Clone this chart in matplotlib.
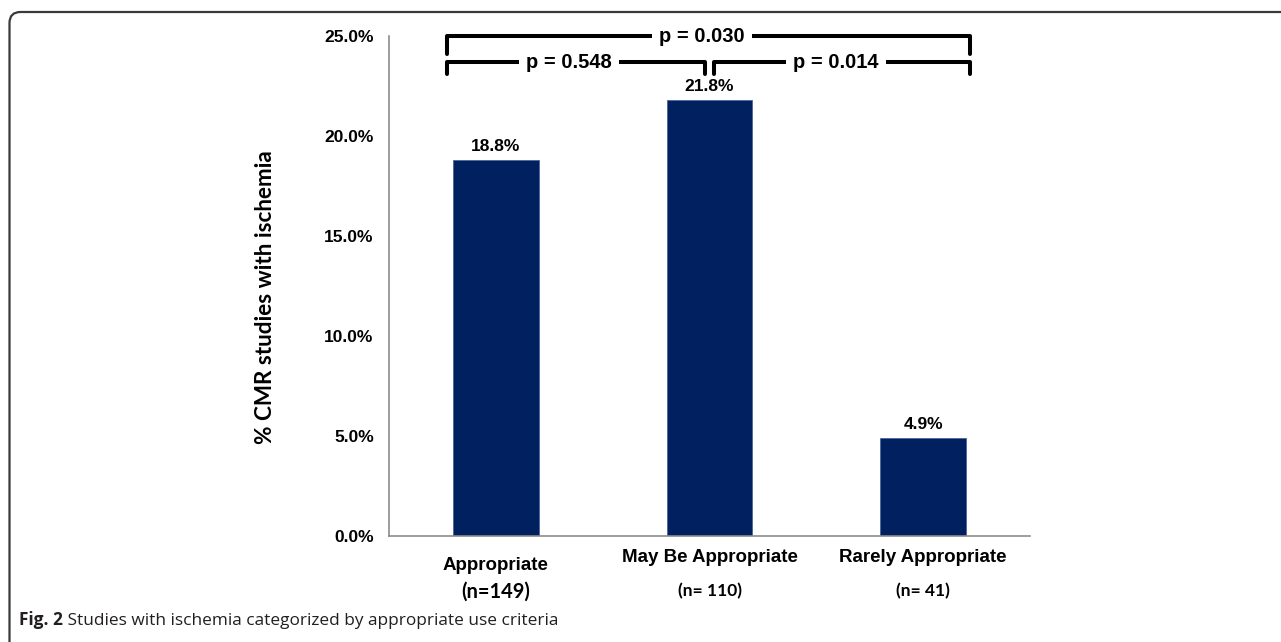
import matplotlib
matplotlib.use("Agg")
import matplotlib.pyplot as plt
from matplotlib.patches import FancyBboxPatch
import numpy as np

# ---- data ----
categories = ["Appropriate", "May Be Appropriate", "Rarely Appropriate"]
sample_sizes = ["(n=149)", "(n= 110)", "(n= 41)"]
pct_ischemia = [18.8, 21.8, 4.9]
y_ticks = [0, 5, 10, 15, 20, 25]
# pairwise comparisons: (left bar, right bar, label, bracket level)
comparisons = [
    (0, 2, "p = 0.030", 25.0),
    (0, 1, "p = 0.548", 23.7),
    (1, 2, "p = 0.014", 23.7),
]

BAR_COLOR = "#002060"
AXIS_COLOR = "#8c8c8c"
ARIAL = ["Liberation Sans", "DejaVu Sans"]
CALIBRI = ["Lato", "DejaVu Sans"]
CAPTION = ["Open Sans", "DejaVu Sans"]

W, H, DPI = 1281, 642, 100
fig = plt.figure(figsize=(W / DPI, H / DPI), dpi=DPI)
fig.patch.set_facecolor("white")

# outer rounded frame (open to the right and bottom)
frame = FancyBboxPatch((0.095, -1.0), 14.0, 6.30 + 1.0,
                       boxstyle="round,pad=0,rounding_size=0.11",
                       transform=fig.dpi_scale_trans, fill=False,
                       edgecolor="#3a3a3a", linewidth=1.6, clip_on=False)
fig.patches.append(frame)

ax_left, ax_right, ax_top, ax_bottom = 389, 1030, 36, 536
ax = fig.add_axes([ax_left / W, (H - ax_bottom) / H,
                   (ax_right - ax_left) / W, (ax_bottom - ax_top) / H])

x = np.arange(len(categories))
ax.bar(x, pct_ischemia, width=0.4, color=BAR_COLOR,
       edgecolor="#4a6597", linewidth=0.6, zorder=2)
ax.set_xlim(-0.5, len(categories) - 0.5)
ax.set_ylim(y_ticks[0], y_ticks[-1])

# axes styling
for side in ("top", "right"):
    ax.spines[side].set_visible(False)
for side in ("left", "bottom"):
    ax.spines[side].set_color(AXIS_COLOR)
    ax.spines[side].set_linewidth(1.2)
ax.set_yticks(y_ticks)
ax.set_yticklabels([f"{v:.1f}%" for v in y_ticks],
                   fontfamily=ARIAL, fontweight="bold", fontsize=12.5)
ax.tick_params(axis="y", length=0, pad=11)
ax.set_xticks([])

# value labels above bars
for xi, v in zip(x, pct_ischemia):
    ax.annotate(f"{v:.1f}%", xy=(xi, v), xytext=(0, 4),
                textcoords="offset points", ha="center", va="bottom",
                fontfamily=ARIAL, fontweight="bold", fontsize=12.5)

# category labels and sample sizes below the axis
name_offsets = [-21, -15.5, -15.5]
n_sizes = [14.5, 12.5, 12.5]
for xi, name, n, off, ns in zip(x, categories, sample_sizes, name_offsets, n_sizes):
    ax.annotate(name, xy=(xi, 0), xycoords=("data", "axes fraction"),
                xytext=(0, off), textcoords="offset points",
                ha="center", va="center", fontfamily=ARIAL,
                fontweight="bold", fontsize=13.5)
    ax.annotate(n, xy=(xi, 0), xycoords=("data", "axes fraction"),
                xytext=(0, -40), textcoords="offset points",
                ha="center", va="center", fontfamily=CALIBRI,
                fontweight="bold", fontsize=ns)

# y-axis title
ax.text(-0.192, 0.478, "% CMR studies with ischemia", transform=ax.transAxes,
        rotation=90, ha="center", va="center", fontfamily=CALIBRI,
        fontweight="bold", fontsize=16.2)

# significance brackets
last = len(categories) - 1
for left, right, label, level in comparisons:
    x0 = left - 0.23 if left == 0 else left + 0.022
    x1 = right + 0.22 if right == last else right - 0.022
    drop = 0.9 if (left == 0 and right == last) else 0.6
    ax.plot([x0, x0, x1, x1], [level - drop, level, level, level - drop],
            color="black", linewidth=2.9, solid_joinstyle="round",
            solid_capstyle="round", clip_on=False, zorder=3)
    ax.text((x0 + x1) / 2 - 0.03, level - 0.05, label, ha="center", va="center",
            fontfamily=ARIAL, fontweight="bold", fontsize=14.5, zorder=4,
            bbox=dict(boxstyle="square,pad=0.35", facecolor="white",
                      edgecolor="none"))

# caption: bold figure number followed by the description
cap = fig.text(19 / W, (H - 620) / H, "Fig. 2", ha="left", va="center",
               fontfamily=CAPTION, fontweight="bold",
               fontsize=12.4, color="#231f20")
ax.annotate(" Studies with ischemia categorized by appropriate use criteria",
            xy=(1, 0), xycoords=cap, ha="left", va="bottom",
            fontfamily=CAPTION, fontsize=12.4,
            color="#231f20", annotation_clip=False)

fig.savefig("out.png", dpi=DPI, facecolor="white")
